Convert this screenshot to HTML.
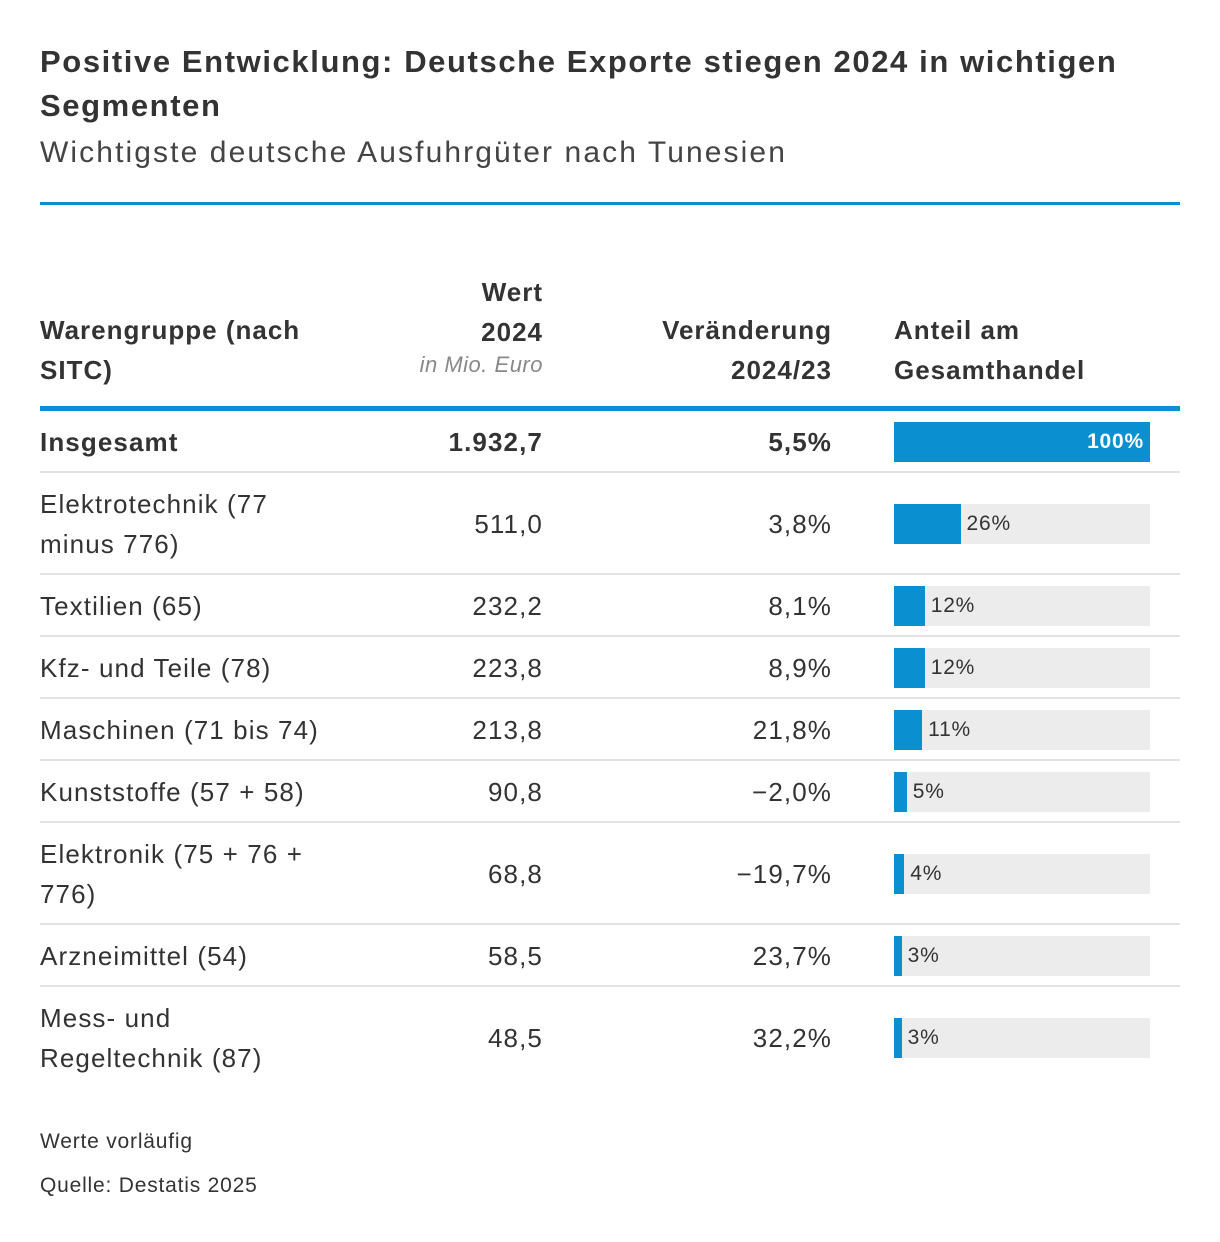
<!DOCTYPE html>
<html><head><meta charset="utf-8">
<style>
body{margin:0;background:#fff;width:1220px;height:1242px;position:relative;font-family:"Liberation Sans","DejaVu Sans",sans-serif;color:#333;overflow:hidden}
.a{position:absolute}
.title{left:40px;top:40px;width:1160px;font-size:31px;font-weight:bold;line-height:44px;color:#333;letter-spacing:1.6px}
.sub{left:40px;top:136px;font-size:30px;color:#444;letter-spacing:2.1px}
.hd{font-size:26px;font-weight:bold;line-height:40px;letter-spacing:1px}
.cell{font-size:26px;line-height:40px;display:flex;align-items:center;letter-spacing:1.1px}
.r{justify-content:flex-end;text-align:right}
.foot{left:40px;font-size:21px;color:#333;letter-spacing:0.8px}
</style></head><body>
<div class="a title">Positive Entwicklung: Deutsche Exporte stiegen 2024 in wichtigen Segmenten</div>
<div class="a sub">Wichtigste deutsche Ausfuhrgüter nach Tunesien</div>
<div class="a" style="left:40px;top:202px;width:1140px;height:3px;background:#0a8fd1"></div>
<div class="a hd" style="left:40px;top:310px">Warengruppe (nach<br>SITC)</div>
<div class="a hd" style="left:343px;top:272px;width:200px;text-align:right">Wert<br>2024<div style="font-weight:normal;font-style:italic;font-size:22px;color:#888;line-height:34px;margin-top:-4px;letter-spacing:0.5px">in Mio. Euro</div></div>
<div class="a hd" style="left:560px;top:310px;width:272px;text-align:right">Veränderung<br>2024/23</div>
<div class="a hd" style="left:894px;top:310px">Anteil am<br>Gesamthandel</div>
<div class="a" style="left:40px;top:406px;width:1140px;height:5px;background:#0a8fd1"></div>
<div id="rows"></div>
<div class="a foot" style="top:1130px">Werte vorläufig</div>
<div class="a foot" style="top:1174px">Quelle: Destatis 2025</div>
<script>
const categories=["Insgesamt","Elektrotechnik (77<br>minus 776)","Textilien (65)","Kfz- und Teile (78)","Maschinen (71 bis 74)","Kunststoffe (57 + 58)","Elektronik (75 + 76 +<br>776)","Arzneimittel (54)","Mess- und<br>Regeltechnik (87)"];
const values=["1.932,7","511,0","232,2","223,8","213,8","90,8","68,8","58,5","48,5"];
const changes=["5,5%","3,8%","8,1%","8,9%","21,8%","−2,0%","−19,7%","23,7%","32,2%"];
const shares=[100,26,12,12,11,5,4,3,3];
const root=document.getElementById('rows');
let y=411;
categories.forEach((c,i)=>{
  const h=i===0?62:(c.includes('<br>')?102:62);
  const bold=i===0?'font-weight:bold;':'';
  const row=document.createElement('div');
  row.className='a';row.style.cssText=`left:0;top:${y}px;width:1220px;height:${h}px`;
  
  
  row.innerHTML=`<div class="a cell" style="left:40px;top:0;height:${h}px;${bold}">${c}</div>
<div class="a cell r" style="left:343px;width:200px;top:0;height:${h}px;${bold}">${values[i]}</div>
<div class="a cell r" style="left:580px;width:252px;top:0;height:${h}px;${bold}">${changes[i]}</div>
<div class="a" style="left:894px;top:${h/2-20}px;width:256px;height:40px;background:#ececec"></div>
<div class="a" style="left:894px;top:${h/2-20}px;width:${256*shares[i]/100}px;height:40px;background:#0a8fd1"></div>
<div class="a" style="${i===0?'left:894px;width:250px;text-align:right;color:#fff;font-weight:bold;':'left:'+(894+256*shares[i]/100+6)+'px;'}top:${h/2-15}px;font-size:21px;line-height:30px;letter-spacing:0.8px">${shares[i]}%</div>
${i<categories.length-1?`<div class="a" style="left:40px;top:${h-2}px;width:1140px;height:2px;background:#e2e2e2"></div>`:''}`;
  root.appendChild(row);
  y+=h;
});
</script>
</body></html>
